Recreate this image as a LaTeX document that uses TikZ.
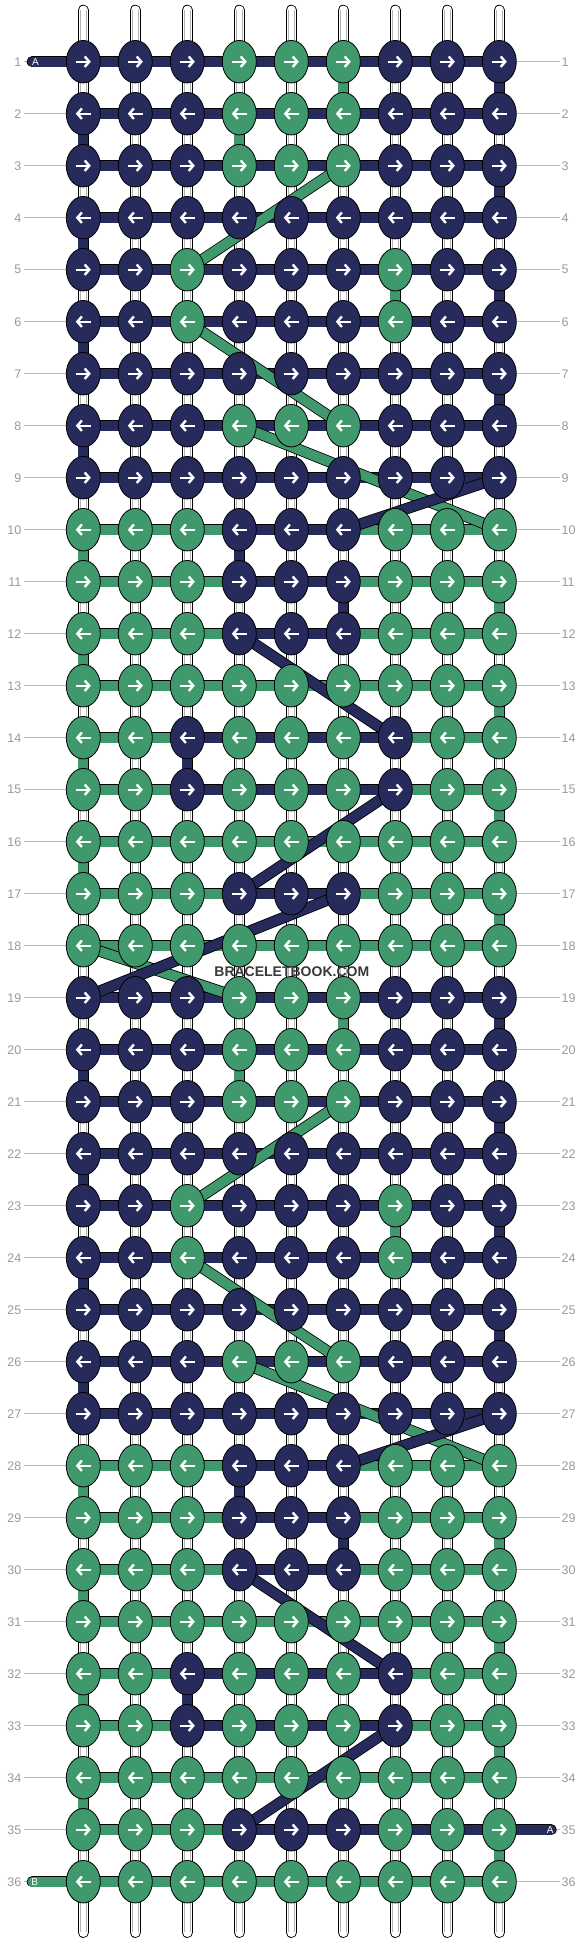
\documentclass[tikz,border=0pt]{standalone}
\usepackage{fontspec}
\setmainfont{Liberation Sans}
\usetikzlibrary{shapes.geometric,arrows.meta}
\definecolor{A}{HTML}{272B5C}
\definecolor{B}{HTML}{3F996D}
\definecolor{numgray}{HTML}{999999}
\definecolor{linegray}{HTML}{BBBBBB}
\pgfdeclarelayer{bg}
\pgfsetlayers{bg,main}
\tikzset{
  knot/.style={ellipse, draw=black, line width=0.8pt, minimum width=34pt, minimum height=42.5pt, inner sep=0pt},
  link/.style={draw=black, line width=0.8pt, double=#1, double distance=9.7pt},
  strand/.style={draw=black, line width=0.8pt, double=white, double distance=9.4pt, line cap=round},
  fibre/.style={draw=black!30, line width=0.6pt},
  tab/.style={link=#1, line cap=round},
  arrw/.style={draw=white, line width=2.4pt, >={Straight Barb[length=4.5pt,width=10.5pt]}},
  lab/.style={text=numgray, font=\fontsize{12.5}{14}\selectfont, inner sep=2pt},
  rowline/.style={draw=linegray, line width=0.8pt},
  tabtxt/.style={text=white, font=\fontsize{10}{11}\selectfont, inner sep=0pt},
}

\begin{document}
\begin{tikzpicture}[x=1pt, y=-1pt]
\useasboundingbox (0,0) rectangle (584,1944);

% strings
\begin{pgfonlayer}{bg}
\foreach \col in {1,...,9}{
  \coordinate (st\col) at (31.3+52*\col, 10.2);
  \coordinate (sb\col) at (31.3+52*\col, 1932.4);
  \draw[strand] (st\col) -- (sb\col);
  \draw[fibre] ([xshift=-2.6pt]st\col) -- ([xshift=-2.6pt]sb\col);
  \draw[fibre] ([xshift=2.6pt]st\col) -- ([xshift=2.6pt]sb\col);
}
\end{pgfonlayer}

% knots row by row, rows 19-36 repeat rows 1-18
\foreach \o in {0,18}{
\foreach \row/\ks/\ls in {
  1/{A,A,A,B,B,B,A,A,A}/{A,A,A,A,A,A,A,A},
  2/{A,A,A,B,B,B,A,A,A}/{A,A,A,A,A,A,A,A},
  3/{A,A,A,B,B,B,A,A,A}/{A,A,A,A,A,A,A,A},
  4/{A,A,A,A,A,A,A,A,A}/{A,A,A,A,A,A,A,A},
  5/{A,A,B,A,A,A,B,A,A}/{A,A,A,A,A,A,A,A},
  6/{A,A,B,A,A,A,B,A,A}/{A,A,A,A,A,A,A,A},
  7/{A,A,A,A,A,A,A,A,A}/{A,A,A,A,A,A,A,A},
  8/{A,A,A,B,B,B,A,A,A}/{A,A,A,A,A,A,A,A},
  9/{A,A,A,A,A,A,A,A,A}/{A,A,A,A,A,A,A,A},
  10/{B,B,B,A,A,A,B,B,B}/{B,B,B,A,A,B,B,B},
  11/{B,B,B,A,A,A,B,B,B}/{B,B,B,A,A,B,B,B},
  12/{B,B,B,A,A,A,B,B,B}/{B,B,B,A,A,B,B,B},
  13/{B,B,B,B,B,B,B,B,B}/{B,B,B,B,B,B,B,B},
  14/{B,B,A,B,B,B,A,B,B}/{B,B,A,A,A,A,B,B},
  15/{B,B,A,B,B,B,A,B,B}/{B,B,A,A,A,A,B,B},
  16/{B,B,B,B,B,B,B,B,B}/{B,B,B,B,B,B,B,B},
  17/{B,B,B,A,A,A,B,B,B}/{B,B,B,A,A,B,B,B},
  18/{B,B,B,B,B,B,B,B,B}/{B,B,B,B,B,B,B,B}%
}{
  \pgfmathtruncatemacro\R{\row+\o}
  \foreach \kc [count=\col] in \ks {
    \node[knot, fill=\kc] (k\R-\col) at (31.3+52*\col, 9.7+52*\R) {};
    \ifodd\R
      \draw[arrw,->] ([xshift=-7.5pt]k\R-\col.center) -- ([xshift=7.5pt]k\R-\col.center);
    \else
      \draw[arrw,<-] ([xshift=-7.5pt]k\R-\col.center) -- ([xshift=7.5pt]k\R-\col.center);
    \fi
  }
  \node[lab, anchor=east] (ll\R) at (23.5, 9.7+52*\R) {\R};
  \node[lab, anchor=west] (lr\R) at (559.5, 9.7+52*\R) {\R};
  \begin{pgfonlayer}{bg}
    \draw[rowline] (ll\R) -- (k\R-1);
    \draw[rowline] (k\R-9) -- (lr\R);
    \foreach \lc [count=\col] in \ls {
      \pgfmathtruncatemacro\nx{\col+1}
      \draw[link=\lc] (k\R-\col.center) -- (k\R-\nx.center);
    }
  \end{pgfonlayer}
}}

\begin{pgfonlayer}{bg}
% threads going down
\foreach \rw/\col/\kc in {2/1/A,4/1/A,6/1/A,8/1/A,10/1/B,12/1/B,14/1/B,16/1/B,
    20/1/A,22/1/A,24/1/A,26/1/A,28/1/B,30/1/B,32/1/B,34/1/B,
    1/9/A,3/9/A,5/9/A,7/9/A,11/9/B,13/9/B,15/9/B,17/9/B,
    19/9/A,21/9/A,23/9/A,25/9/A,29/9/B,31/9/B,33/9/B,35/9/B,
    1/6/B,2/4/B,5/7/B,10/4/A,11/6/A,14/3/A,
    19/6/B,20/4/B,23/7/B,28/4/A,29/6/A,32/3/A}{
  \pgfmathtruncatemacro\rn{\rw+1}
  \draw[link=\kc] (k\rw-\col.center) -- (k\rn-\col.center);
}
\foreach \col/\nx in {6/7,7/8,8/9}
  \draw[link=A] (k35-\col.center) -- (k35-\nx.center);
% threads carried across
\foreach \a/\b in {3-6/5-3,6-3/8-6,8-4/10-9,18-1/19-4,21-6/23-3,24-3/26-6,26-4/28-9}
  \draw[link=B] (k\a.center) -- (k\b.center);
\foreach \a/\b in {10-6/9-9,12-4/14-7,15-7/17-4,17-6/19-1,28-6/27-9,30-4/32-7,33-7/35-4}
  \draw[link=A] (k\a.center) -- (k\b.center);
% thread ends
\coordinate (ta1) at (32.3, 61.7);
\coordinate (ta35) at (551, 1829.7);
\coordinate (tb36) at (32.3, 1881.7);
\draw[tab=A] (ta1) -- (k1-1.center);
\draw[tab=A] (k35-9.center) -- (ta35);
\draw[tab=B] (tb36) -- (k36-1.center);
\end{pgfonlayer}

\node[tabtxt] (tA1) at (35.5, 61.7) {A};
\node[tabtxt] (tA35) at (550.3, 1829.7) {A};
\node[tabtxt] (tB36) at (34.8, 1881.7) {B};

\node[font=\bfseries\fontsize{14}{16}\selectfont, text=black!78] (wm) at (291.8, 971.7) {BRACELETBOOK.COM};
\end{tikzpicture}
\end{document}
